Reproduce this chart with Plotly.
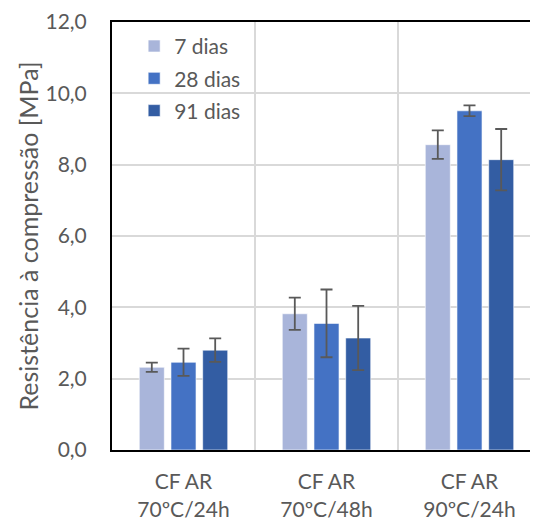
import plotly.graph_objects as go

categories = ["CF AR<br>70ºC/24h", "CF AR<br>70ºC/48h", "CF AR<br>90ºC/24h"]
series_names = ["7 dias", "28 dias", "91 dias"]
values_7 = [2.32, 3.82, 8.56]
values_28 = [2.46, 3.55, 9.51]
values_91 = [2.80, 3.14, 8.14]
err_7 = [0.13, 0.45, 0.40]
err_28 = [0.38, 0.95, 0.15]
err_91 = [0.33, 0.90, 0.86]
colors = ["#A9B5DA", "#4472C4", "#335DA3"]
y_ticks = [0, 2, 4, 6, 8, 10, 12]

fig = go.Figure()
for i, (name, vals, errs) in enumerate(zip(series_names, [values_7, values_28, values_91], [err_7, err_28, err_91])):
    fig.add_trace(go.Bar(
        x=categories, y=vals, name=name, legendgroup=name,
        marker=dict(color=colors[i], line=dict(color="rgba(255,255,255,0.6)", width=1)),
        error_y=dict(type="data", array=errs, visible=True, color="#595959", thickness=1.8, width=6),
    ))

font_family = "Lato, Carlito, 'Open Sans', sans-serif"
fig.update_layout(
    width=530, height=516,
    margin=dict(l=104, r=0, t=14, b=74, autoexpand=False),
    paper_bgcolor="white", plot_bgcolor="white",
    separators=",.",
    barmode="group", bargap=0.335, bargroupgap=0.21,
    font=dict(family=font_family, size=21, color="#595959"),
    legend=dict(x=0.052, y=0.991, xanchor="left", yanchor="top",
                bgcolor="rgba(0,0,0,0)", tracegroupgap=2,
                font=dict(size=21, color="#595959")),
    xaxis=dict(range=[-0.5, 2.479], showline=True, linecolor="black", linewidth=2,
               mirror=True, showgrid=True, gridcolor="#D9D9D9", gridwidth=2,
               tickson="boundaries", ticks="", ticklabelstandoff=12, automargin=False,
               tickfont=dict(size=21, color="#595959")),
    yaxis=dict(range=[0, 12], tickvals=y_ticks, tickformat=".1f",
               showline=True, linecolor="black", linewidth=2, mirror=False,
               showgrid=True, gridcolor="#D9D9D9", gridwidth=2,
               zeroline=False, ticks="", ticklabelstandoff=19, automargin=False,
               ticklabeloverflow="allow",
               title=dict(text="Resistência à compressão [MPa]", standoff=0,
                          font=dict(size=25, color="#595959")),
               tickfont=dict(size=21, color="#595959")),
)

fig.write_html("out.html")
